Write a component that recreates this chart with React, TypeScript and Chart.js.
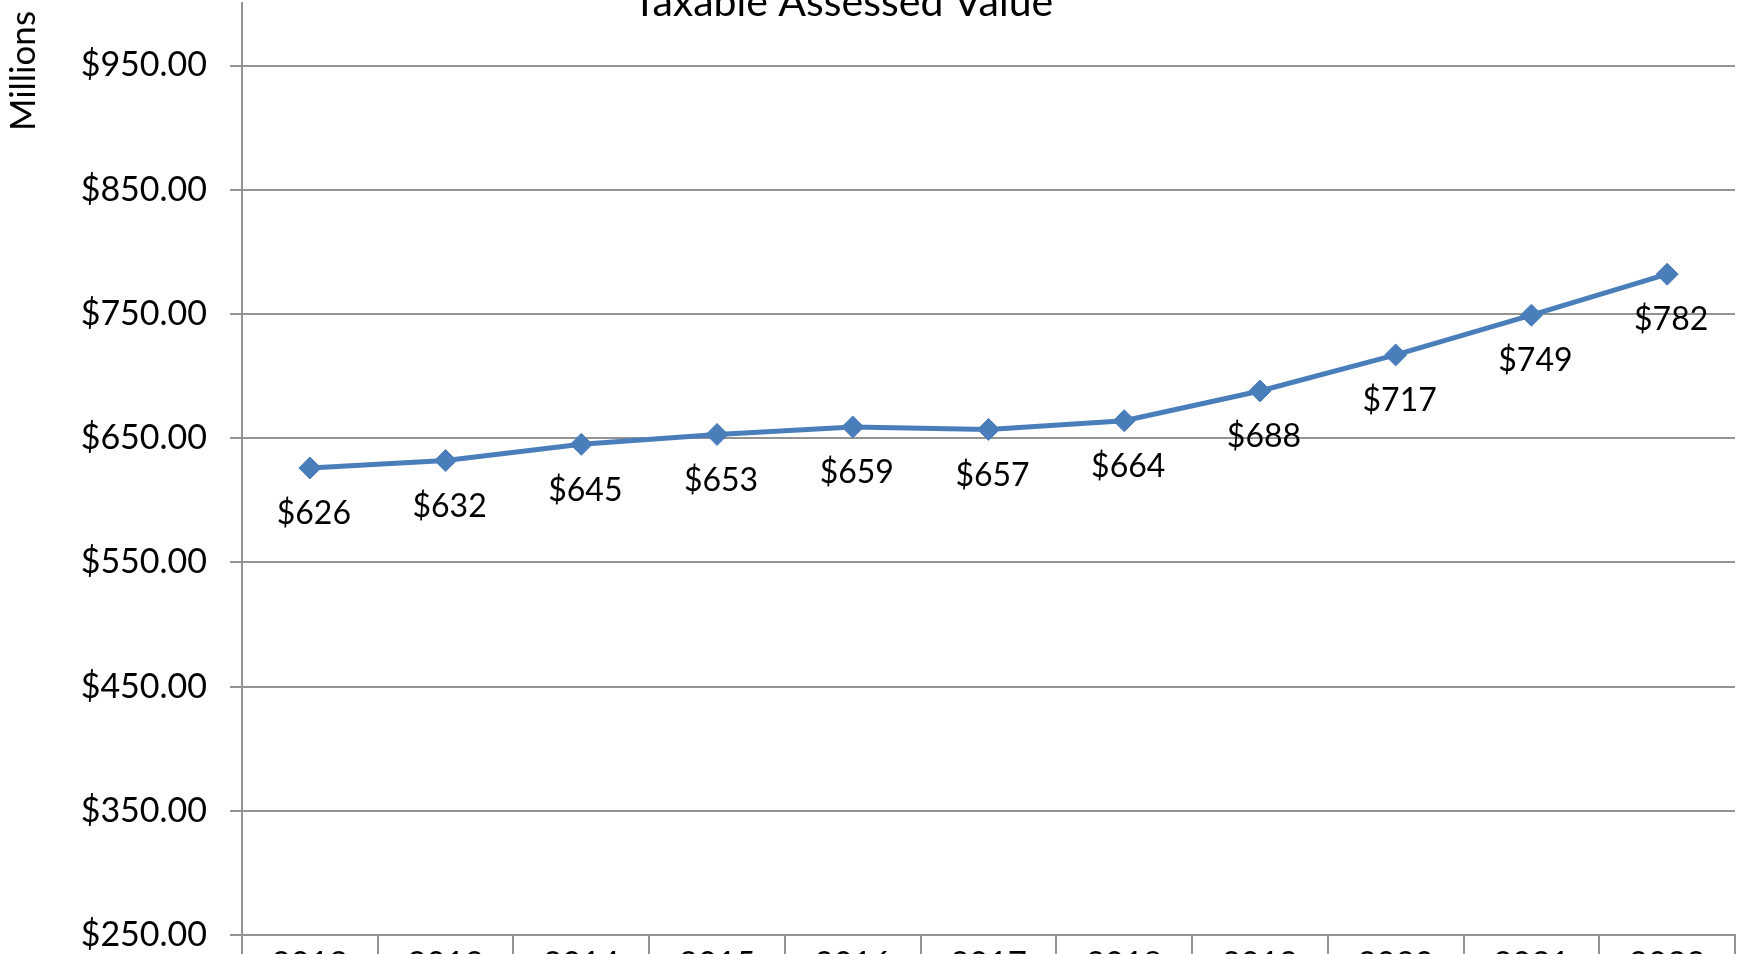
import React, { useEffect, useRef } from "react";
import { Chart, registerables } from "chart.js";

Chart.register(...registerables);

const years = ["2012", "2013", "2014", "2015", "2016", "2017", "2018", "2019", "2020", "2021", "2022"];
const values = [626, 632, 645, 653, 659, 657, 664, 688, 717, 749, 782];
const yTicks = [250, 350, 450, 550, 650, 750, 850, 950];
const chartTitle = "Taxable Assessed Value";
const axisTitle = "Millions";

const FONT = "Lato, 'Open Sans', sans-serif";
const LINE_COLOR = "#4A7EBB";
const GRID_COLOR = "#939393";
const SHIFT = 40; // canvas is shifted up by this many px
const CANVAS_H = 1060;

export default function App() {
  const ref = useRef<HTMLCanvasElement | null>(null);

  useEffect(() => {
    document.body.style.margin = "0";
    const canvas = ref.current;
    if (!canvas) return;

    const overlay = {
      id: "overlay",
      afterDatasetsDraw(chart: any) {
        const ctx = chart.ctx;
        const meta = chart.getDatasetMeta(0);
        ctx.save();
        ctx.fillStyle = "#000";
        ctx.font = `32px ${FONT}`;
        ctx.textAlign = "center";
        ctx.textBaseline = "middle";
        meta.data.forEach((pt: any, i: number) => {
          ctx.fillText("$" + values[i], pt.x + 4, pt.y + 46);
        });
        ctx.restore();
      },
      afterDraw(chart: any) {
        const ctx = chart.ctx;
        ctx.save();
        ctx.fillStyle = "#000";
        ctx.font = `41px ${FONT}`;
        ctx.textAlign = "center";
        ctx.textBaseline = "alphabetic";
        ctx.fillText(chartTitle, 843, SHIFT + 16);
        ctx.translate(24, SHIFT + 71);
        ctx.rotate(-Math.PI / 2);
        ctx.font = `35px ${FONT}`;
        ctx.textBaseline = "middle";
        ctx.fillText(axisTitle, 0, 0);
        ctx.restore();
      },
    };

    const chart = new Chart(canvas, {
      type: "line",
      data: {
        labels: years,
        datasets: [
          {
            data: values,
            borderColor: LINE_COLOR,
            backgroundColor: LINE_COLOR,
            borderWidth: 5,
            pointStyle: "rectRot",
            pointRadius: 11,
            pointBorderWidth: 1,
            pointBackgroundColor: LINE_COLOR,
            pointBorderColor: LINE_COLOR,
            tension: 0,
            clip: false as any,
          },
        ],
      },
      options: {
        animation: false,
        responsive: false,
        maintainAspectRatio: false,
        layout: { padding: { top: SHIFT + 3, right: 12, left: 0, bottom: 0 } },
        plugins: {
          legend: { display: false },
          title: { display: false },
          tooltip: { enabled: false },
        },
        scales: {
          x: {
            type: "category",
            offset: true,
            grid: {
              offset: true,
              drawOnChartArea: false,
              drawTicks: true,
              tickLength: 60,
              color: GRID_COLOR,
              lineWidth: 2,
            },
            border: { display: true, color: GRID_COLOR, width: 2 },
            ticks: {
              color: "#000",
              font: { family: FONT, size: 33 },
              padding: -50,
              maxRotation: 0,
              autoSkip: false,
            },
            afterFit(scale: any) {
              scale.height = CANVAS_H - (SHIFT + 935);
            },
          },
          y: {
            type: "linear",
            min: 250,
            max: 1000,
            afterBuildTicks(axis: any) {
              axis.ticks = yTicks.map((v) => ({ value: v }));
            },
            grid: {
              color: GRID_COLOR,
              lineWidth: 2,
              tickLength: 12,
              drawTicks: true,
            },
            border: { display: true, color: GRID_COLOR, width: 2 },
            ticks: {
              color: "#000",
              font: { family: FONT, size: 34 },
              padding: 23,
              callback: (v: any) => "$" + Number(v).toFixed(2),
            },
            afterFit(scale: any) {
              scale.width = 242;
            },
          },
        },
      },
      plugins: [overlay],
    });

    return () => chart.destroy();
  }, []);

  return (
    <div style={{ position: "relative", width: 1747, height: 954, overflow: "hidden", background: "#fff" }}>
      <canvas
        ref={ref}
        width={1747}
        height={CANVAS_H}
        style={{ position: "absolute", left: 0, top: -SHIFT, width: 1747, height: CANVAS_H }}
      />
    </div>
  );
}
